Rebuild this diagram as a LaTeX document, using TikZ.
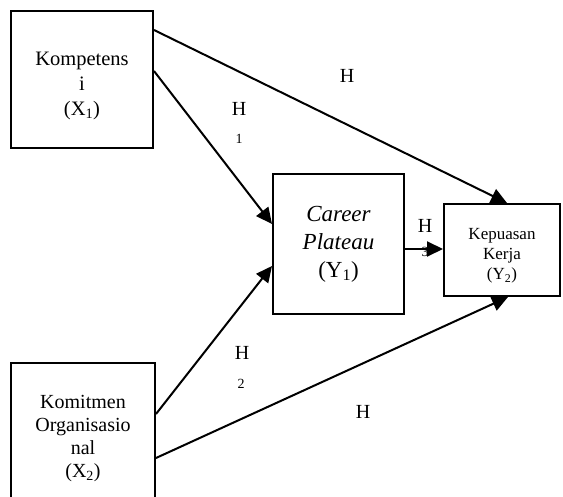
\documentclass[tikz,border=0pt]{standalone}
\usepackage{fontspec}
\setmainfont{Liberation Serif}
\usetikzlibrary{arrows.meta, calc}

\tikzset{
  varbox/.style={draw, line width=2pt, inner sep=0pt},
  boxtext/.style={align=center, inner sep=0pt},
  hyp/.style={font=\fontsize{20}{24}\selectfont, inner sep=0pt},
  hypnum/.style={font=\fontsize{14}{14}\selectfont, inner sep=0pt},
  link/.style={draw, line width=2pt, -{Triangle[length=16pt,width=15pt]}}
}

\begin{document}
\begin{tikzpicture}[x=1pt,y=-1pt]
  \useasboundingbox (0,0) rectangle (563,497);

  % variables
  \node[varbox, minimum width=142pt, minimum height=137pt,
        label={[boxtext, yshift=-6pt, font=\fontsize{20.5}{25}\selectfont]center:Kompetens\\i\\(X\textsubscript{1})}]
        (x1) at (82,79.5) {};
  \node[varbox, minimum width=144pt, minimum height=137pt,
        label={[boxtext, yshift=-7pt, font=\fontsize{20}{23}\selectfont]center:Komitmen\\Organisasio\\nal\\(X\textsubscript{2})}]
        (x2) at (83,431.5) {};
  \node[varbox, minimum width=131pt, minimum height=140pt,
        label={[boxtext, font=\fontsize{23}{28}\selectfont]center:\textit{Career}\\\textit{Plateau}\\(Y\textsubscript{1})}]
        (y1) at (338.5,244) {};
  \node[varbox, minimum width=116pt, minimum height=92pt,
        label={[boxtext, yshift=-6pt, font=\fontsize{17}{20}\selectfont]center:Kepuasan\\Kerja\\(Y\textsubscript{2})}]
        (y2) at (502,250) {};

  % hypotheses
  \node[hyp] (h1) at (239,109) {H};
  \node[hypnum] (h1n) at (239,139) {1};
  \node[hyp] (h2) at (242,353) {H};
  \node[hypnum] (h2n) at (241,384) {2};
  \node[hyp] (h3) at (425,226) {H};
  \node[hypnum] (h3n) at (425,252) {3};
  \node[hyp] (h4) at (347,76) {H};
  \node[hyp] (h5) at (363,412) {H};

  % paths
  \coordinate (y1out) at ($(y1.east)+(0,5)$);
  \path[link] ($(x1.north east)+(0,20)$) -- ($(y2.north)+(5,0)$);
  \path[link] ($(x1.north east)+(0,61)$) -- ($(y1.north west)+(0,51)$);
  \path[link] ($(x2.north east)+(0,52)$) -- ($(y1.north west)+(0,93)$);
  \path[link] ($(x2.north east)+(0,96)$) -- ($(y2.south)+(6,0)$);
  \path[link] (y1out) -- (y1out -| y2.west);
\end{tikzpicture}
\end{document}
